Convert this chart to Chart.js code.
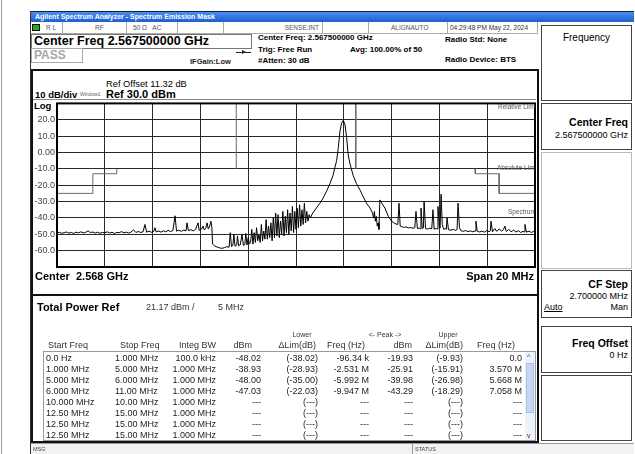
<!DOCTYPE html>
<html>
<head>
<meta charset="utf-8">
<script src="https://cdn.jsdelivr.net/npm/chart.js@4.4.0/dist/chart.umd.min.js"></script>
<style>
body{margin:0;width:635px;height:454px;position:relative;overflow:hidden;background:#fff;font-family:"Liberation Sans",Arial,sans-serif;color:#000}
.a{position:absolute;white-space:nowrap}
.st{font-size:6.5px;color:#555;line-height:11px;top:22px}
.hd{font-size:8px;font-weight:bold;line-height:10px}
.sk{position:absolute;left:541px;width:91px;border:1px solid #444;box-sizing:border-box;background:#fff}
.skt{position:absolute;right:3px;font-size:10.5px;font-weight:bold;white-space:nowrap}
.skv{position:absolute;right:3px;font-size:9px;white-space:nowrap}
.th{font-size:9px;color:#333;line-height:11px}
.cell{font-size:9px;color:#222;line-height:11px}
.plbl{position:absolute;font-size:6.5px;color:#555;white-space:nowrap}
</style>
</head>
<body>
<div class="a" style="left:1px;top:0;width:1px;height:454px;background:#9a9a9a"></div>
<div class="a" style="left:30px;top:11px;width:1px;height:443px;background:#333"></div>

<!-- title bar -->
<div class="a" style="left:31px;top:11px;width:603px;height:11px;background:linear-gradient(#4a8ef0,#1d5fd0);border-top:1px solid #123;box-sizing:border-box"></div>
<div class="a" style="left:35px;top:11px;line-height:11px;font-size:7px;font-weight:bold;color:#fff">Agilent Spectrum Analyzer - Spectrum Emission Mask</div>

<!-- status row -->
<div class="a" style="left:31px;top:22px;width:507px;height:12px;border-bottom:1px solid #aaa;box-sizing:border-box"></div>
<div class="a" style="left:32px;top:24px;width:8px;height:7px;background:#2a2;border:1px solid #111;box-sizing:border-box"></div>
<div class="a" style="left:62px;top:22px;width:1px;height:12px;background:#aaa"></div>
<div class="a" style="left:126px;top:22px;width:1px;height:12px;background:#aaa"></div>
<div class="a" style="left:177px;top:22px;width:1px;height:12px;background:#aaa"></div>
<div class="a" style="left:223px;top:22px;width:1px;height:12px;background:#aaa"></div>
<div class="a" style="left:322px;top:22px;width:1px;height:12px;background:#aaa"></div>
<div class="a" style="left:368px;top:22px;width:1px;height:12px;background:#aaa"></div>
<div class="a" style="left:447px;top:22px;width:1px;height:12px;background:#aaa"></div>
<div class="a" style="left:537px;top:22px;width:1px;height:12px;background:#aaa"></div>
<div class="a st" style="left:46px">R L</div>
<div class="a st" style="left:95px">RF</div>
<div class="a st" style="left:133px">50 Ω&nbsp;&nbsp;&nbsp;AC</div>
<div class="a st" style="right:316px">SENSE:INT</div>
<div class="a st" style="left:391px">ALIGNAUTO</div>
<div class="a st" style="left:450px;color:#333">04:29:48 PM May 22, 2024</div>

<!-- header -->
<div class="a" style="left:31px;top:34px;width:221px;height:15px;border:1px solid #777;box-sizing:border-box"></div>
<div class="a" style="left:34px;top:34px;line-height:15px;font-size:12.5px;font-weight:bold">Center Freq 2.567500000 GHz</div>
<div class="a" style="left:31px;top:48px;width:52px;height:15px;border:1px solid #aaa;box-sizing:border-box"></div>
<div class="a" style="left:34px;top:48px;line-height:15px;font-size:12px;font-weight:bold;color:#a8a8a8">PASS</div>
<div class="a" style="left:236px;top:52px;width:15px;height:1px;background:#222"></div>
<div class="a" style="left:242px;top:50px;width:0;height:0;border-left:4px solid #222;border-top:2.5px solid transparent;border-bottom:2.5px solid transparent"></div>
<div class="a" style="left:190px;top:57px;line-height:10px;font-size:7.5px;font-weight:bold;color:#222">IFGain:Low</div>
<div class="a hd" style="left:258px;top:33px">Center Freq: 2.567500000 GHz</div>
<div class="a hd" style="left:258px;top:45px">Trig: Free Run</div>
<div class="a hd" style="left:258px;top:56px">#Atten: 30 dB</div>
<div class="a hd" style="left:350px;top:45px">Avg: 100.00% of 50</div>
<div class="a hd" style="left:445px;top:35px">Radio Std: None</div>
<div class="a hd" style="left:445px;top:55px">Radio Device: BTS</div>

<!-- softkeys -->
<div class="sk" style="top:25px;height:76px"><div class="a" style="left:0;width:89px;text-align:center;top:6px;font-size:10px">Frequency</div></div>
<div class="sk" style="top:103px;height:47px"><div class="skt" style="top:12px">Center Freq</div><div class="skv" style="top:26px">2.567500000 GHz</div></div>
<div class="sk" style="top:152px;height:117px;border-color:#bbb"></div>
<div class="sk" style="top:270px;height:48px"><div class="skt" style="top:7px">CF Step</div><div class="skv" style="top:20px">2.700000 MHz</div><div class="a" style="left:2px;top:31px;font-size:9px;text-decoration:underline">Auto</div><div class="skv" style="top:31px">Man</div></div>
<div class="sk" style="top:326px;height:47px"><div class="skt" style="top:10px">Freq Offset</div><div class="skv" style="top:23px">0 Hz</div></div>
<div class="sk" style="top:375px;height:66px"></div>

<!-- chart panel -->
<div class="a" style="left:31px;top:69px;width:508px;height:227px;border:2px solid #111;box-sizing:border-box"></div>
<div class="a" style="left:106px;top:78px;line-height:12px;font-size:9.3px">Ref Offset 11.32 dB</div>
<div class="a" style="left:35px;top:89px;line-height:11px;font-size:9.5px;font-weight:bold">10 dB/div</div>
<div class="a" style="left:80px;top:90px;line-height:9px;font-size:5px;color:#666">Window1</div>
<div class="a" style="left:106px;top:88px;line-height:13px;font-size:11px;font-weight:bold">Ref 30.0 dBm</div>
<div class="a" style="left:33px;top:99px;width:503px;height:1px;background:#888"></div>
<div class="a" style="left:34px;top:100px;line-height:11px;font-size:9.5px;font-weight:bold">Log</div>
<canvas id="c" width="507" height="180" style="position:absolute;left:31px;top:96px"></canvas>
<div class="a" style="left:57px;top:102px;width:478px;height:165px;overflow:hidden">
  <div class="plbl" style="left:441px;top:1px">Relative Limit</div>
  <div class="plbl" style="left:440px;top:62px">Absolute Limit</div>
  <div class="plbl" style="left:451px;top:106px">Spectrum</div>
</div>
<div class="a" style="left:35px;top:269px;line-height:14px;font-size:11px;font-weight:bold">Center&nbsp;&nbsp;2.568 GHz</div>
<div class="a" style="right:101px;top:269px;line-height:14px;font-size:11px;font-weight:bold">Span 20 MHz</div>

<!-- table panel -->
<div class="a" style="left:31px;top:294px;width:508px;height:149px;border:2px solid #111;box-sizing:border-box"></div>
<div class="a" style="left:37px;top:300px;line-height:14px;font-size:11px;font-weight:bold">Total Power Ref</div>
<div class="a" style="left:146px;top:301px;line-height:12px;font-size:9px;color:#333">21.17 dBm /</div>
<div class="a" style="left:218px;top:301px;line-height:12px;font-size:9px;color:#333">5 MHz</div>
<div class="a th" style="left:48px;top:340px">Start Freq</div>
<div class="a th" style="left:120px;top:340px">Stop Freq</div>
<div class="a th" style="right:419px;top:340px">Integ BW</div>
<div class="a th" style="right:383px;top:340px">dBm</div>
<div class="a th" style="left:286px;top:329px;font-size:7px;width:32px;text-align:center">Lower</div>
<div class="a th" style="right:319px;top:340px">ΔLim(dB)</div>
<div class="a th" style="right:270px;top:340px">Freq (Hz)</div>
<div class="a th" style="left:365px;top:329px;font-size:7px;width:40px;text-align:center">&lt;- Peak -&gt;</div>
<div class="a th" style="right:223px;top:340px">dBm</div>
<div class="a th" style="left:433px;top:329px;font-size:7px;width:30px;text-align:center">Upper</div>
<div class="a th" style="right:172px;top:340px">ΔLim(dB)</div>
<div class="a th" style="right:120px;top:340px">Freq (Hz)</div>
<div class="a" style="left:43px;top:351px;width:493px;height:90px;border:1px solid #999;box-sizing:border-box"></div>
<div class="a" id="rows" style="left:0;top:352px;width:635px;height:88px;overflow:hidden"></div>
<div class="a" style="left:525px;top:352px;width:10px;height:88px;background:#eef2fa"></div>
<div class="a" style="left:526px;top:363px;width:8px;height:50px;background:#c9d8f2;border:1px solid #a9bfe6;box-sizing:border-box"></div>
<div class="a" style="left:527px;top:353px;font-size:7px;color:#335;line-height:8px">^</div>
<div class="a" style="left:527px;top:432px;font-size:7px;color:#335;line-height:8px">v</div>

<!-- bottom status bar -->
<div class="a" style="left:31px;top:443px;width:603px;height:11px;background:#f2f2f2;border-top:1px solid #999;box-sizing:border-box"></div>
<div class="a" style="left:33px;top:444px;font-size:5.5px;color:#444;line-height:10px">MSG</div>
<div class="a" style="left:412px;top:443px;width:1px;height:11px;background:#999"></div>
<div class="a" style="left:415px;top:444px;font-size:5.5px;color:#444;line-height:10px">STATUS</div>

<script>
// trace: [offset from center (MHz), level (dBm)]
const tracePoints = [
  [-10.00,-49.2],[-9.90,-48.8],[-9.80,-49.4],[-9.70,-49.0],[-9.60,-48.6],[-9.50,-49.3],[-9.40,-48.9],[-9.30,-49.5],
  [-9.20,-48.7],[-9.10,-49.1],[-9.00,-48.5],[-8.90,-49.2],[-8.80,-48.8],[-8.70,-47.9],[-8.60,-49.0],[-8.50,-48.6],
  [-8.40,-49.3],[-8.30,-48.7],[-8.20,-49.4],[-8.10,-48.9],[-8.00,-49.1],[-7.90,-48.5],[-7.80,-49.2],[-7.70,-48.8],
  [-7.60,-49.5],[-7.50,-48.9],[-7.40,-49.0],[-7.30,-48.4],[-7.20,-49.1],[-7.10,-48.7],[-7.00,-49.3],[-6.90,-48.6],
  [-6.80,-47.3],[-6.70,-48.9],[-6.60,-48.3],[-6.50,-48.9],[-6.40,-48.5],[-6.32,-44.0],[-6.25,-48.7],[-6.15,-48.1],
  [-6.05,-48.8],[-5.95,-48.2],[-5.90,-46.0],[-5.85,-48.6],[-5.75,-48.0],[-5.65,-48.7],[-5.55,-47.9],[-5.45,-48.5],
  [-5.35,-47.6],[-5.25,-48.3],[-5.15,-47.7],[-5.06,-38.7],[-5.00,-48.1],[-4.90,-47.5],[-4.80,-48.2],[-4.70,-47.4],
  [-4.60,-47.9],[-4.56,-43.0],[-4.50,-47.8],[-4.40,-47.2],[-4.30,-47.9],[-4.20,-47.0],[-4.10,-43.0],[-4.05,-47.6],
  [-3.95,-46.8],[-3.89,-45.0],[-3.84,-47.3],[-3.78,-46.5],[-3.72,-43.0],[-3.67,-46.8],[-3.62,-45.5],[-3.56,-42.0],
  [-3.52,-46.0],[-3.49,-56.0],[-3.40,-57.2],[-3.30,-57.8],[-3.20,-58.3],[-3.10,-58.6],[-3.00,-58.2],[-2.90,-57.6],
  [-2.80,-57.9],[-2.75,-49.0],[-2.70,-57.5],[-2.64,-56.8],[-2.60,-50.0],[-2.55,-57.3],[-2.48,-56.5],[-2.45,-51.0],
  [-2.40,-57.0],[-2.33,-56.4],[-2.26,-50.0],[-2.20,-56.8],[-2.14,-56.2],[-2.10,-49.5],[-2.05,-56.5],[-2.00,-52.0],
  [-1.95,-56.0],[-1.90,-55],[-1.85,-47],[-1.80,-56],[-1.75,-49],[-1.70,-55],[-1.65,-46],[-1.60,-54],
  [-1.55,-50],[-1.50,-55],[-1.45,-44],[-1.40,-54],[-1.35,-48],[-1.30,-53],[-1.25,-41],[-1.20,-53],
  [-1.15,-45],[-1.10,-52],[-1.05,-43],[-1.00,-54],[-0.95,-40],[-0.90,-52],[-0.85,-37],[-0.80,-51],
  [-0.75,-38],[-0.70,-52],[-0.65,-42],[-0.60,-50],[-0.55,-36],[-0.50,-51],[-0.45,-39],[-0.40,-49],
  [-0.35,-35],[-0.30,-50],[-0.25,-37],[-0.20,-48],[-0.15,-33],[-0.10,-49],[-0.05,-36],[0.00,-47],
  [0.05,-34],[0.10,-46],[0.15,-32],[0.20,-45],[0.25,-35],[0.30,-44],[0.35,-31],[0.40,-43],
  [0.45,-36],[0.50,-42],[0.55,-38],[0.60,-40],[0.70,-37],[0.85,-34],[1.00,-31],[1.13,-28],
  [1.30,-23],[1.42,-19],[1.55,-14],[1.63,-9],[1.70,-5],[1.77,3],[1.84,13],[1.91,18],
  [1.98,19.6],[2.05,17],[2.12,9],[2.18,-1],[2.26,-7],[2.39,-14],[2.53,-19],[2.68,-23],
  [2.81,-27],[2.95,-31],[3.10,-34],[3.20,-37],[3.25,-40],[3.28,-36],[3.32,-42],[3.36,-39],
  [3.40,-45],[3.44,-43],[3.47,-47],[3.51,-29],[3.59,-31],[3.72,-34],[3.86,-39],[4.00,-42],
  [4.14,-43.5],[4.26,-44],[4.31,-31],[4.36,-45],[4.40,-45.2],[4.50,-45.8],[4.60,-45.5],[4.70,-46.1],
  [4.80,-45.9],[4.90,-46.3],[4.97,-46.0],[5.02,-36],[5.08,-46.5],[5.15,-46.2],[5.20,-46.6],[5.23,-34],
  [5.28,-46.4],[5.33,-46.1],[5.36,-30],[5.42,-46.6],[5.50,-46.8],[5.60,-46.3],[5.68,-46.7],[5.73,-35],
  [5.78,-46.9],[5.87,-46.4],[5.91,-46.8],[5.94,-33],[6.00,-45],[6.03,-46.2],[6.07,-25.5],[6.12,-44],
  [6.18,-47],[6.25,-46.5],[6.29,-47.0],[6.32,-40],[6.38,-47.2],[6.48,-47.5],[6.58,-47.0],[6.68,-47.6],
  [6.74,-47.1],[6.78,-31],[6.84,-46],[6.90,-47.8],[7.00,-48.2],[7.10,-47.7],[7.20,-48.4],[7.30,-47.9],
  [7.40,-48.5],[7.49,-48.0],[7.53,-42],[7.58,-48.1],[7.68,-48.6],[7.78,-48.0],[7.88,-48.7],[7.98,-47.8],
  [8.08,-48.4],[8.13,-48.0],[8.16,-42],[8.22,-48.5],[8.32,-46.5],[8.40,-48.2],[8.50,-46.8],[8.60,-48.0],
  [8.68,-47.2],[8.74,-45],[8.80,-48.3],[8.90,-46.9],[9.00,-48.5],[9.10,-47.4],[9.20,-48.6],[9.30,-47.8],
  [9.40,-48.9],[9.50,-48.2],[9.55,-48.6],[9.58,-44],[9.64,-48.7],[9.75,-48.1],[9.85,-48.9],[9.93,-48.3],
  [10.00,-48.8]
];

// mask limit line, null level = break
const limitPoints = [
  [-10,-25],[-8.5,-25],[-8.5,-13],[-7.5,-13],[-7.5,-10],[-5,null],
  [-2.5,-10],[-2.5,30],[0,null],[2.5,30],[2.5,-10],[5,null],
  [7.5,-10],[7.5,-13],[8.5,-13],[8.5,-25],[10,-25]
];

const yTickValues = [20, 10, 0, -10, -20, -30, -40, -50, -60];
const yTickLabels = ['20.0', '10.0', '0.00', '-10.0', '-20.0', '-30.0', '-40.0', '-50.0', '-60.0'];

// result table
const startFreq = ['0.0 Hz', '1.000 MHz', '5.000 MHz', '6.000 MHz', '10.000 MHz', '12.50 MHz', '12.50 MHz', '12.50 MHz'];
const stopFreq = ['1.000 MHz', '5.000 MHz', '6.000 MHz', '11.00 MHz', '10.00 MHz', '15.00 MHz', '15.00 MHz', '15.00 MHz'];
const integBw = ['100.0 kHz', '1.000 MHz', '1.000 MHz', '1.000 MHz', '1.000 MHz', '1.000 MHz', '1.000 MHz', '1.000 MHz'];
const lowerDbm = ['-48.02', '-38.93', '-48.00', '-47.03', '---', '---', '---', '---'];
const lowerDelta = ['(-38.02)', '(-28.93)', '(-35.00)', '(-22.03)', '(---)', '(---)', '(---)', '(---)'];
const lowerFreq = ['-96.34 k', '-2.531 M', '-5.992 M', '-9.947 M', '---', '---', '---', '---'];
const upperDbm = ['-19.93', '-25.91', '-39.98', '-43.29', '---', '---', '---', '---'];
const upperDelta = ['(-9.93)', '(-15.91)', '(-26.98)', '(-18.29)', '(---)', '(---)', '(---)', '(---)'];
const upperFreq = ['0.0', '3.570 M', '5.668 M', '7.058 M', '---', '---', '---', '---'];

const columns = [
  [startFreq, 'left', 46], [stopFreq, 'left', 115], [integBw, 'right', 216],
  [lowerDbm, 'right', 261], [lowerDelta, 'right', 318], [lowerFreq, 'right', 369],
  [upperDbm, 'right', 413], [upperDelta, 'right', 463], [upperFreq, 'right', 522]
];
const rows = document.getElementById('rows');
columns.forEach(([vals, align, x]) => {
  vals.forEach((v, i) => {
    const d = document.createElement('div');
    d.className = 'a cell';
    d.textContent = v;
    d.style.top = (1 + i * 11) + 'px';
    if (align === 'left') d.style.left = x + 'px';
    else d.style.right = (635 - x) + 'px';
    rows.appendChild(d);
  });
});

// thick plot frame
const framePlugin = {
  id: 'frame',
  afterDatasetsDraw(chart) {
    const { ctx, chartArea: a } = chart;
    ctx.save();
    ctx.strokeStyle = '#000';
    ctx.lineWidth = 2;
    ctx.strokeRect(a.left, a.top, a.right - a.left, a.bottom - a.top);
    ctx.restore();
  }
};

Chart.defaults.font.family = '"Liberation Sans", Arial, sans-serif';

const ctx = document.getElementById('c').getContext('2d');
const chart = new Chart(ctx, {
  type: 'line',
  data: {
    datasets: [{
      label: 'Spectrum',
      data: tracePoints.map(p => ({ x: p[0], y: p[1] })),
      borderColor: '#000',
      borderWidth: 1,
      pointRadius: 0,
      tension: 0,
      order: 1
    }, {
      label: 'Limit',
      data: limitPoints.map(p => ({ x: p[0], y: p[1] })),
      borderColor: '#6a6a6a',
      borderWidth: 1,
      pointRadius: 0,
      tension: 0,
      spanGaps: false,
      order: 2
    }]
  },
  options: {
    responsive: false,
    animation: false,
    devicePixelRatio: 1,
    layout: { padding: { left: 0, right: 3, top: 6, bottom: 9 } },
    plugins: { legend: { display: false }, tooltip: { enabled: false } },
    scales: {
      x: {
        type: 'linear',
        min: -10,
        max: 10,
        ticks: { stepSize: 2, display: false },
        grid: { color: '#2a2a2a', lineWidth: 1, drawTicks: false },
        border: { display: false },
        afterFit(s) { s.height = 0; }
      },
      y: {
        min: -70,
        max: 30,
        ticks: {
          stepSize: 10,
          padding: 2,
          color: '#444',
          font: { size: 9 },
          callback: v => {
            const i = yTickValues.indexOf(v);
            return i < 0 ? '' : yTickLabels[i];
          }
        },
        grid: { color: '#2a2a2a', lineWidth: 1, drawTicks: false },
        border: { display: false },
        afterFit(s) { s.width = 26; }
      }
    }
  },
  plugins: [framePlugin]
});
</script>
</body>
</html>
